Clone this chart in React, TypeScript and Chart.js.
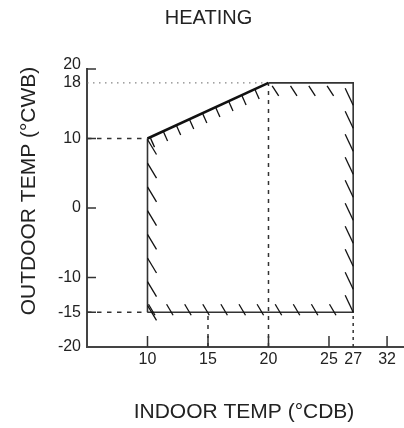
import React, { useEffect, useRef } from 'react';
import { Chart, registerables } from 'chart.js';

Chart.register(...registerables);

// ---- data ----
const chartTitle = 'HEATING';
const xAxisTitle = 'INDOOR TEMP (°CDB)';
const yAxisTitle = 'OUTDOOR TEMP (°CWB)';

// tick label positions (value on the scale) and their printed text
const xTickValues = [10, 15, 20, 25, 27, 29.8];
const xTickLabels = ['10', '15', '20', '25', '27', '32'];
const yTickValues = [-20, -15, -10, 0, 10, 18, 20.7];
const yTickLabels = ['-20', '-15', '-10', '0', '10', '18', '20'];
// short solid tick marks
const xTickMarks = [10, 15, 20, 25, 29.8];
const yTickMarks = [20, 10, 0, -10, -15];

// operating range polygon (indoor °CDB, outdoor °CWB)
const rangeIndoor = [10, 10, 20, 27, 27, 10];
const rangeOutdoor = [-15, 10, 18, 18, -15, -15];

// guide lines
const guide18X = [5, 20];
const guide18Y = [18, 18];
const guide10X = [5, 10];
const guide10Y = [10, 10];
const guideM15X = [5, 10];
const guideM15Y = [-15, -15];
const guideV15X = [15, 15];
const guideV15Y = [-20, -15];
const guideV20X = [20, 20];
const guideV20Y = [-20, 18];
const guideV27X = [27, 27];
const guideV27Y = [-20, -15];

const X_MIN = 5;
const X_MAX = 31.2;
const Y_MIN = -20;
const Y_MAX = 20;

// ---- style ----
const FONT = '"Liberation Sans", Arial, Helvetica, sans-serif';
const INK = '#222';

// hatch strokes along polygon edges (vertex indices into range arrays)
const hatchSpecs = [
  { a: 1, b: 0, start: 0, step: 23.7, n: 8, s0: [0, 1], s1: [9, 16] },
  { a: 0, b: 4, start: 6, step: 18.1, n: 11, s0: [-5, -8], s1: [1.5, 3] },
  { a: 4, b: 3, start: 0, step: 23, n: 10, s0: [-8, -17], s1: [0, 0] },
  { a: 2, b: 3, start: 3.7, step: 18.3, n: 4, s0: [0, 3], s1: [6.5, 13] },
  { a: 1, b: 2, start: 3.3, step: 14.4, n: 9, s0: [0, 1], s1: [4, 10] },
];

const pts = (xs: number[], ys: number[]) => xs.map((x, i) => ({ x, y: ys[i] }));

const guide = (xs: number[], ys: number[], dash: number[], width: number, color: string) => ({
  data: pts(xs, ys),
  showLine: true,
  borderColor: color,
  borderWidth: width,
  borderDash: dash,
  borderCapStyle: 'butt',
  pointRadius: 0,
  fill: false,
  tension: 0,
});

const decorPlugin = {
  id: 'decor',
  afterDatasetsDraw(chart: any) {
    const { ctx } = chart;
    const xs = chart.scales.x;
    const ys = chart.scales.y;
    const px = (v: number) => xs.getPixelForValue(v);
    const py = (v: number) => ys.getPixelForValue(v);
    ctx.save();
    // inward tick marks
    ctx.strokeStyle = '#333';
    ctx.lineWidth = 1.5;
    const ax = px(X_MIN);
    const ay = py(Y_MIN);
    xTickMarks.forEach((v) => {
      const x = px(v);
      ctx.beginPath();
      ctx.moveTo(x, ay);
      ctx.lineTo(x, ay - 11);
      ctx.stroke();
    });
    yTickMarks.forEach((v) => {
      const y = py(v);
      ctx.beginPath();
      ctx.moveTo(ax, y);
      ctx.lineTo(ax + 9, y);
      ctx.stroke();
    });
    // hatching
    ctx.strokeStyle = '#111';
    ctx.lineWidth = 1.3;
    hatchSpecs.forEach((h) => {
      const A = { x: px(rangeIndoor[h.a]), y: py(rangeOutdoor[h.a]) };
      const B = { x: px(rangeIndoor[h.b]), y: py(rangeOutdoor[h.b]) };
      const len = Math.hypot(B.x - A.x, B.y - A.y);
      const ux = (B.x - A.x) / len;
      const uy = (B.y - A.y) / len;
      for (let k = 0; k < h.n; k++) {
        const d = h.start + k * h.step;
        const cx = A.x + ux * d;
        const cy = A.y + uy * d;
        ctx.beginPath();
        ctx.moveTo(cx + h.s0[0], cy + h.s0[1]);
        ctx.lineTo(cx + h.s1[0], cy + h.s1[1]);
        ctx.stroke();
      }
    });
    ctx.restore();
  },
  afterDraw(chart: any) {
    const { ctx, chartArea } = chart;
    ctx.save();
    ctx.fillStyle = INK;
    ctx.textBaseline = 'alphabetic';
    ctx.textAlign = 'center';
    ctx.font = `20px ${FONT}`;
    ctx.fillText(chartTitle, 208.5, 24);
    ctx.font = `21px ${FONT}`;
    ctx.fillText(xAxisTitle, (chartArea.left + chartArea.right) / 2 - 1.5, 418);
    ctx.translate(35, 191);
    ctx.rotate(-Math.PI / 2);
    ctx.fillText(yAxisTitle, 0, 0);
    ctx.restore();
  },
};

export default function App() {
  const ref = useRef<HTMLCanvasElement>(null);
  useEffect(() => {
    const canvas = ref.current;
    if (!canvas) return;
    const chart = new Chart(canvas, {
      type: 'scatter',
      data: {
        datasets: [
          {
            data: pts(rangeIndoor, rangeOutdoor),
            showLine: true,
            borderColor: INK,
            borderWidth: 1.6,
            borderJoinStyle: 'miter',
            pointRadius: 0,
            fill: false,
            tension: 0,
            segment: {
              borderWidth: (c: any) => (c.p0DataIndex === 1 ? 2.6 : 1.6),
              borderColor: (c: any) => (c.p0DataIndex === 1 ? '#111' : '#333'),
            },
          } as any,
          guide(guide18X, guide18Y, [1.5, 4.5], 1, '#666') as any,
          guide(guide10X, guide10Y, [4.5, 5.5], 1.3, '#333') as any,
          guide(guideM15X, guideM15Y, [4.5, 5.5], 1.3, '#333') as any,
          guide(guideV15X, guideV15Y, [4, 5], 1.5, '#333') as any,
          guide(guideV20X, guideV20Y, [4, 5], 1.5, '#333') as any,
          guide(guideV27X, guideV27Y, [3, 4], 1.5, '#333') as any,
        ],
      },
      options: {
        animation: false,
        responsive: false,
        events: [],
        layout: { padding: { top: 69, left: 0, right: 0, bottom: 0 } },
        plugins: {
          legend: { display: false },
          tooltip: { enabled: false },
          title: { display: false },
        },
        scales: {
          x: {
            type: 'linear',
            min: X_MIN,
            max: X_MAX,
            afterBuildTicks: (s: any) => {
              s.ticks = xTickValues.map((v) => ({ value: v }));
            },
            afterFit: (s: any) => {
              s.height = 81;
            },
            grid: { display: true, drawOnChartArea: false, drawTicks: false },
            border: { display: true, color: '#444', width: 2 },
            ticks: {
              autoSkip: false,
              maxRotation: 0,
              minRotation: 0,
              padding: 3,
              color: INK,
              font: { family: FONT, size: 16 },
              callback: (_v: any, i: number) => xTickLabels[i],
            },
          },
          y: {
            type: 'linear',
            min: Y_MIN,
            max: Y_MAX,
            afterBuildTicks: (s: any) => {
              s.ticks = yTickValues.map((v) => ({ value: v }));
            },
            afterFit: (s: any) => {
              s.width = 87;
            },
            grid: { display: true, drawOnChartArea: false, drawTicks: false },
            border: { display: true, color: '#444', width: 2 },
            ticks: {
              autoSkip: false,
              padding: 6,
              color: INK,
              font: { family: FONT, size: 16 },
              callback: (_v: any, i: number) => yTickLabels[i],
            },
          },
        },
      } as any,
      plugins: [decorPlugin],
    });
    return () => chart.destroy();
  }, []);
  return (
    <div style={{ position: 'absolute', left: 0, top: 0, width: 404, height: 428, background: '#fff' }}>
      <canvas ref={ref} width={404} height={428} style={{ display: 'block', width: 404, height: 428 }} />
    </div>
  );
}
